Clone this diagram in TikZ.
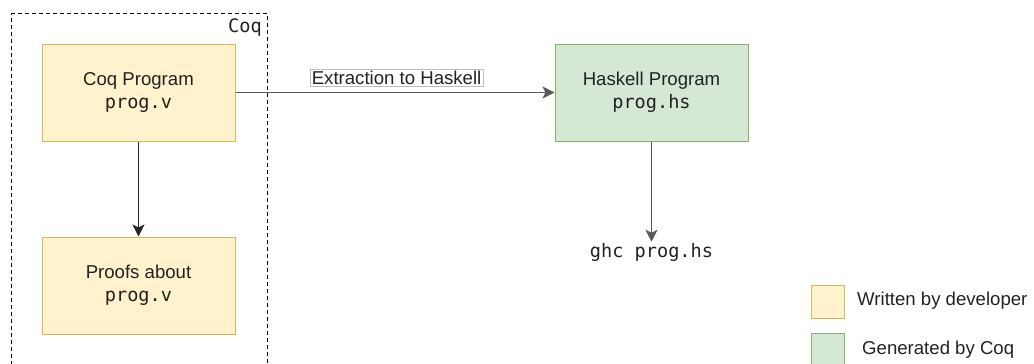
\documentclass[tikz,border=0pt]{standalone}
\usepackage{fontspec}
\setmainfont{Liberation Sans}
\setsansfont{Liberation Sans}
\setmonofont{DejaVu Sans Mono}
\usetikzlibrary{arrows.meta}
\definecolor{yfill}{HTML}{FFF2CC}
\definecolor{ydraw}{HTML}{D6B656}
\definecolor{gfill}{HTML}{D5E8D4}
\definecolor{gdraw}{HTML}{82B366}
\definecolor{txt}{HTML}{222222}
\begin{document}
\begin{tikzpicture}[x=1pt,y=-1pt,
  boxfont/.style={font=\fontsize{18.6}{23}\selectfont,text=txt},
  yellowbox/.style={draw=ydraw,fill=yfill,line width=1pt,minimum width=193pt,minimum height=97pt,align=center,inner sep=0pt,boxfont},
  greenbox/.style={draw=gdraw,fill=gfill,line width=1pt,minimum width=193pt,minimum height=97pt,align=center,inner sep=0pt,boxfont},
  legendbox/.style={line width=1pt,minimum width=33pt,minimum height=33pt,inner sep=0pt},
  conn/.style={line width=1.5pt,-{Stealth[length=12pt,width=12pt,inset=3pt]}},
  mono/.style={font=\fontsize{18.6}{23}\ttfamily}
]
\useasboundingbox (0,0) rectangle (1034,364);
\begin{scope}
\clip (0,0) rectangle (1034,364);
\node[draw=black,dash pattern=on 4pt off 3pt,line width=1.2pt,minimum width=256pt,minimum height=380pt,inner sep=0pt,anchor=north west] (coqbox) at (11,13) {};
\node[legendbox,draw=gdraw,fill=gfill] (leggreen) at (828,350) {};
\end{scope}
\node[anchor=north east,mono,inner sep=0pt,text=txt] (coqlabel) at (262,18) {Coq};
\node[yellowbox] (coqprog) at (138.5,92.5) {Coq Program\\{\fontsize{18.6}{23}\ttfamily prog.v}};
\node[yellowbox] (proofs) at (138.5,285.5) {Proofs about\\{\fontsize{18.6}{23}\ttfamily prog.v}};
\node[greenbox] (hsprog) at (651.5,92.5) {Haskell Program\\{\fontsize{18.6}{23}\ttfamily prog.hs}};
\node[mono,text=txt,inner sep=1pt] (ghc) at (651.5,252) {ghc prog.hs};
\draw[conn,draw=black!65,fill=black] (coqprog.east) -- (hsprog.west)
  node[pos=0.505,yshift=15pt,fill=white,draw=black!25,line width=0.6pt,inner sep=1.5pt,boxfont] (extlabel) {Extraction to Haskell};
\draw[conn,draw=black!85,fill=black] (coqprog.south) -- (proofs.north);
\draw[conn,draw=black!65,fill=black] (hsprog.south) -- (ghc.north);
\node[legendbox,draw=ydraw,fill=yfill] (legyellow) at (828,301.5) {};
\node[anchor=west,boxfont,inner sep=0pt] (legytext) at (857,301) {Written by developer};
\node[anchor=west,boxfont,inner sep=0pt] (leggtext) at (862,350) {Generated by Coq};
\end{tikzpicture}
\end{document}
